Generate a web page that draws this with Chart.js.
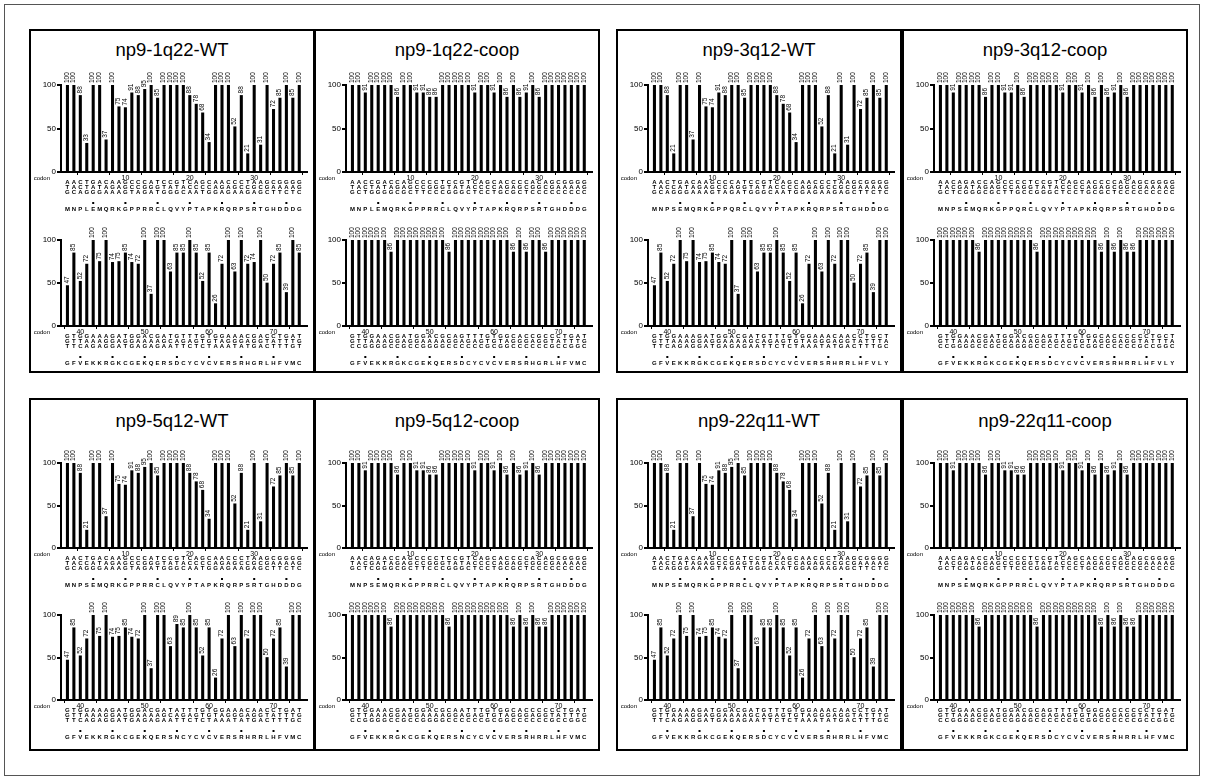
<!DOCTYPE html>
<html><head><meta charset="utf-8">
<script src="https://cdn.jsdelivr.net/npm/chart.js@4.4.1/dist/chart.umd.min.js"></script>
<style>
html,body{margin:0;padding:0;background:#fff;}
body{width:1206px;height:781px;overflow:hidden;position:relative;font-family:"Liberation Sans",Arial,sans-serif;}
#frame{position:absolute;left:4px;top:4px;width:1196px;height:772px;border:1px solid #555;box-sizing:border-box;}
.panel{position:absolute;border:2px solid #000;box-sizing:border-box;}
.title{position:absolute;text-align:center;font-size:18.5px;line-height:24px;color:#000;}
canvas{position:absolute;}
</style></head><body>
<div id="frame"></div>
<script>
// ---------- data ----------
const codonsTop = [1,2,3,4,5,6,7,8,9,10,11,12,13,14,15,16,17,18,19,20,21,22,23,24,25,26,27,28,29,30,31,32,33,34,35,36,37];
const codonsBottom = [38,39,40,41,42,43,44,45,46,47,48,49,50,51,52,53,54,55,56,57,58,59,60,61,62,63,64,65,66,67,68,69,70,71,72,73,74];
const tickValsTop = [5,10,15,20,25,30,35];
const tickValsBottom = [40,45,50,55,60,65,70];
const yTickVals = [0,50,100];

const wt1q22Top = [100,100,88,33,100,100,37,100,75,74,91,88,95,100,85,100,100,100,100,88,78,68,34,100,100,100,52,88,21,100,31,100,72,85,100,85,100];
const wt1q22Bottom = [47,85,52,72,100,75,100,74,75,85,74,72,100,37,100,100,63,85,85,100,85,52,85,26,72,100,63,100,72,74,100,50,72,85,39,100,85];
const wt3q12Top = [100,100,88,21,100,100,37,100,75,74,91,88,100,100,85,100,100,100,100,88,78,68,34,100,100,100,52,88,21,100,31,100,72,85,100,85,100];
const wt3q12Bottom = [47,85,52,72,100,75,100,74,75,85,74,72,100,37,100,100,63,85,85,100,85,52,85,26,72,100,63,100,72,100,100,50,72,85,39,100,100];
const wt5q12Top = [100,100,88,21,100,100,37,100,75,74,91,88,95,100,85,100,100,100,100,88,78,68,34,100,100,100,52,88,21,100,31,100,72,85,100,85,100];
const wt5q12Bottom = [47,85,52,72,100,75,100,74,75,85,74,72,100,37,100,100,63,89,85,100,85,52,85,26,72,100,63,100,72,100,100,50,72,85,39,100,100];
const wt22q11Top = [100,100,88,21,100,100,37,100,75,74,91,88,95,100,85,100,100,100,100,88,78,68,34,100,100,100,52,88,21,100,31,100,72,85,100,85,100];
const wt22q11Bottom = [47,85,52,72,100,75,100,74,75,85,74,72,100,37,100,100,63,85,85,100,85,52,85,26,72,100,63,100,72,100,100,50,72,85,39,100,100];

const coop1q22Top = [100,100,91,100,100,100,100,86,100,100,91,91,86,86,100,100,100,100,100,91,100,100,91,100,86,100,86,91,100,86,100,100,100,100,100,100,100];
const coop1q22Bottom = [100,100,100,100,100,100,86,100,100,100,100,100,100,100,100,86,100,100,100,100,100,100,100,100,100,86,100,86,100,100,86,100,100,100,100,100,100];
const coop3q12Top = [100,100,91,100,100,100,100,86,100,100,91,91,100,86,100,100,100,100,100,91,100,100,91,100,86,100,86,91,100,86,100,100,100,100,100,100,100];
const coop3q12Bottom = [100,100,100,100,100,100,86,100,100,100,100,100,100,100,100,86,100,100,100,100,100,100,100,100,100,86,100,86,100,86,86,100,100,100,100,100,100];
const coop5q12Top = [100,100,91,100,100,100,100,86,100,100,91,91,86,86,100,100,100,100,100,91,100,100,91,100,86,100,86,91,100,86,100,100,100,100,100,100,100];
const coop5q12Bottom = [100,100,100,100,100,100,86,100,100,100,100,100,100,100,100,86,100,100,100,100,100,100,100,100,100,86,100,86,100,86,86,100,100,100,100,100,100];
const coop22q11Top = [100,100,91,100,100,100,100,86,100,100,91,91,86,86,100,100,100,100,100,91,100,100,91,100,86,100,86,91,100,86,100,100,100,100,100,100,100];
const coop22q11Bottom = [100,100,100,100,100,100,86,100,100,100,100,100,100,100,100,86,100,100,100,100,100,100,100,100,100,86,100,86,100,86,86,100,100,100,100,100,100];

// nucleotide rows (one letter per codon, 3 rows) and amino acids
const seq1q22WtTop = ["AACTGACAAGCCCATCCGTCAGCAACCCTAAGCGGGG","TACTATAGAGCCGGGTATACCCCAGAGCCGCGAAAAG","GCAGGGAAAGTAGATGGGCAATGGAGAAGAGCTTCTC"];
const aa1q22WtTop = "MNPLEMQRKGPPRRCLQVYPTAPKRQRPSRTGHDDDG";
const seq1q22WtBottom = ["GTGGAAAGATGGACGATGTTTGTGGAAACGACCTGAT","GTTAAAGGAGGAAAAGCAGAGTGTAGGGAGGTATTTG","TTCAGAGGATGAGAGAATTCTCTAAATATGACTTTGT"];
const aa1q22WtBottom = "GFVEKKRGKCGEKQERSDCYCVCVERSRHGRLHFVMC";
const seq3q12WtTop = ["AACTGACAAGCCCATCCGTCAGCAACCCTAAGCGGGG","TACCATAGAGCCAGGTATACCCCAGAGCCGCGAAAAG","GCAGGGAAAGTAGATGGGCAATGGAGAAGAGCTTCTC"];
const aa3q12WtTop = "MNPSEMQRKGPPQRCLQVYPTAPKRQRPSRTGHDDDG";
const seq3q12WtBottom = ["GTGGAAAGATGGACGATGTTTGTGGAAACAACCTGCT","GTTAAAGGAGGAAAAGCAGAGTGTAGGGAGGTATTTA","TTCAGAGGATGAGAGAATTCTCTAAATATGACTTTGC"];
const aa3q12WtBottom = "GFVEKKRGKCGEKQERSDCYCVCVERSRHRRLHFVLY";
const seq5q12WtTop = ["AACTGACAAGCCCATCCGTCAGCAACCCTAAGCGGGG","TACCATAGAGCCGGGTATACCCCAGAGCCGCGAAAAG","GCAGGGAAAGTAGATGGGCAATGGAGAAGAGCTTCTC"];
const aa5q12WtTop = "MNPSEMQRKGPPRRCLQVYPTAPKRQRPSRTGHDDDG";
const seq5q12WtBottom = ["GTGGAAAGATGGACGATATTTGTGGAAACAACCTGAT","GTTAAAGGAGGAAAAGCAGAGTGTAGGGAGGTATTTG","TTCAGAGGATGAGAGAATTCTCTAAATATGACTTTGC"];
const aa5q12WtBottom = "GFVEKKRGKCGEKQERSNCYCVCVERSRHRRLHFVMC";
const seq22q11WtTop = ["AACTGACAAGCCCATCCGTCAGCAACCCTAAGCGGGG","TACCATAGAGCCGGGTATACCCCAGAGCCGCGAAAAG","GCAGGGAAAGTAGATGGGCAATGGAGAAGAGCTTCTC"];
const aa22q11WtTop = "MNPSEMQRKGPPRRCLQVYPTAPKRQRPSRTGHDDDG";
const seq22q11WtBottom = ["GTGGAAAGATGGACGATGTTTGTGGAAACAACCTGAT","GTTAAAGGAGGAAAAGCAGAGTGTAGGGAGGTATTTG","TTCAGAGGATGAGAGAATTCTCTAAATATGACTTTGC"];
const aa22q11WtBottom = "GFVEKKRGKCGEKQERSDCYCVCVERSRHRRLHFVMC";

const seq1q22CoopTop = ["AACCGACCAGCCCCTCCGTCAGCACCCCACAGCGGGG","TACTATAGAGCCGGGTATACCCCAGAGCGGCGAAAAG","GCTGGGGCGCTTCCCGGGCTCCTGCGCTCCCCCCCCC"];
const aa1q22CoopTop = "MNPLEMQRKGPPRRCLQVYPTAPKRQRPSRTGHDDDG";
const seq1q22CoopBottom = ["GTGGAACGATGGACGCAGTTTGTGGCACCGCCCTGAT","GTTAAAGGAGGAAAAGGAGAGTGTAGGGAGGTATTTG","CCGGGGCCGCCGGGGCCCCCCGCGGCCCCCCGCCGGC"];
const aa1q22CoopBottom = "GFVEKKRGKCGEKQERSDCYCVCVERSRHGRLHFVMC";
const seq3q12CoopTop = ["AACAGACCAGCCCCTCCGTCAGCACCCCACAGCGGGG","TACGATAGAGCCAGGTATACCCCAGAGCGGCGAAAAG","GCTCGGGCGCTTGCCGGGCTCCTGCGCTCCCCCCCCC"];
const aa3q12CoopTop = "MNPSEMQRKGPPQRCLQVYPTAPKRQRPSRTGHDDDG";
const seq3q12CoopBottom = ["GTGGAACGATGGACGCAGTTTGTGGCACCCCCCTGCT","GTTAAAGGAGGAAAAGGAGAGTGTAGGGAGGTATTTA","CCGGGGCCGCCGGGGCCCCCCGCGGCCCCCCGCCGGC"];
const aa3q12CoopBottom = "GFVEKKRGKCGEKQERSDCYCVCVERSRHRRLHFVLY";
const seq5q12CoopTop = ["AACAGACCAGCCCCTCCGTCAGCACCCCACAGCGGGG","TACGATAGAGCCGGGTATACCCCAGAGCGGCGAAAAG","GCTCGGGCGCTTCCCGGGCTCCTGCGCTCCCCCCCCC"];
const aa5q12CoopTop = "MNPSEMQRKGPPRRCLQVYPTAPKRQRPSRTGHDDDG";
const seq5q12CoopBottom = ["GTGGAACGATGGACGCAATTTGTGGCACCCCCCTGAT","GTTAAAGGAGGAAAAGGAGAGTGTAGGGAGGTATTTG","CCGGGGCCGCCGGGGCCCCCCGCGGCCCCCCGCCGGC"];
const aa5q12CoopBottom = "GFVEKKRGKCGEKQERSNCYCVCVERSRHRRLHFVMC";
const seq22q11CoopTop = ["AACAGACCAGCCCCTCCGTCAGCACCCCACAGCGGGG","TACGATAGAGCCGGGTATACCCCAGAGCGGCGAAAAG","GCTCGGGCGCTTCCCGGGCTCCTGCGCTCCCCCCCCC"];
const aa22q11CoopTop = "MNPSEMQRKGPPRRCLQVYPTAPKRQRPSRTGHDDDG";
const seq22q11CoopBottom = ["GTGGAACGATGGACGCAGTTTGTGGCACCCCCCTGAT","GTTAAAGGAGGAAAAGGAGAGTGTAGGGAGGTATTTG","CCGGGGCCGCCGGGGCCCCCCGCGGCCCCCCGCCGGC"];
const aa22q11CoopBottom = "GFVEKKRGKCGEKQERSDCYCVCVERSRHRRLHFVMC";

const panelTitles = ["np9-1q22-WT","np9-1q22-coop","np9-3q12-WT","np9-3q12-coop","np9-5q12-WT","np9-5q12-coop","np9-22q11-WT","np9-22q11-coop"];

// ---------- layout ----------
const FONT = '"Liberation Sans", Arial, sans-serif';
const colLefts = [29, 314, 616, 902];
const PANEL_W = 286;
const rowsLayout = [
  {top:29, h:344, titleY:50, areas:[[85,172],[240,326]]},
  {top:398, h:353, titleY:421, areas:[[463,548],[615,700]]}
];
const AXIS_OFF = 32, PLOT_W = 246, PAD_TOP = 24, XAXIS_H = 44;

const panelDefs = [
  {t:0, col:0,row:0, top:[wt1q22Top,seq1q22WtTop,aa1q22WtTop], bot:[wt1q22Bottom,seq1q22WtBottom,aa1q22WtBottom]},
  {t:1, col:1,row:0, top:[coop1q22Top,seq1q22CoopTop,aa1q22CoopTop], bot:[coop1q22Bottom,seq1q22CoopBottom,aa1q22CoopBottom]},
  {t:2, col:2,row:0, top:[wt3q12Top,seq3q12WtTop,aa3q12WtTop], bot:[wt3q12Bottom,seq3q12WtBottom,aa3q12WtBottom]},
  {t:3, col:3,row:0, top:[coop3q12Top,seq3q12CoopTop,aa3q12CoopTop], bot:[coop3q12Bottom,seq3q12CoopBottom,aa3q12CoopBottom]},
  {t:4, col:0,row:1, top:[wt5q12Top,seq5q12WtTop,aa5q12WtTop], bot:[wt5q12Bottom,seq5q12WtBottom,aa5q12WtBottom]},
  {t:5, col:1,row:1, top:[coop5q12Top,seq5q12CoopTop,aa5q12CoopTop], bot:[coop5q12Bottom,seq5q12CoopBottom,aa5q12CoopBottom]},
  {t:6, col:2,row:1, top:[wt22q11Top,seq22q11WtTop,aa22q11WtTop], bot:[wt22q11Bottom,seq22q11WtBottom,aa22q11WtBottom]},
  {t:7, col:3,row:1, top:[coop22q11Top,seq22q11CoopTop,aa22q11CoopTop], bot:[coop22q11Bottom,seq22q11CoopBottom,aa22q11CoopBottom]}
];

function makeChart(left, areaTop, areaBottom, codons, values, seqRows, aa, xMin, xMax, tickVals) {
  const cv = document.createElement('canvas');
  const w = AXIS_OFF - 2 + PLOT_W + 6;
  const h = PAD_TOP + (areaBottom - areaTop) + XAXIS_H;
  cv.width = w; cv.height = h;
  cv.style.left = (left + 2) + 'px';
  cv.style.top = (areaTop - PAD_TOP) + 'px';
  document.body.appendChild(cv);

  const labelPlugin = {
    id: 'valLabels',
    afterDatasetsDraw(chart) {
      const ctx = chart.ctx;
      const meta = chart.getDatasetMeta(0);
      ctx.save();
      ctx.fillStyle = '#000';
      ctx.font = '6.5px ' + FONT;
      meta.data.forEach((bar, i) => {
        ctx.save();
        ctx.translate(bar.x - 0.5, bar.y - 2);
        ctx.rotate(-Math.PI / 2);
        ctx.textAlign = 'left';
        ctx.textBaseline = 'middle';
        ctx.fillText(String(values[i]), 0, 0);
        ctx.restore();
      });
      ctx.restore();
    }
  };
  const seqPlugin = {
    id: 'seqRows',
    afterDraw(chart) {
      const ctx = chart.ctx;
      const xs = chart.scales.x;
      const b = chart.chartArea.bottom;
      ctx.save();
      ctx.fillStyle = '#000';
      ctx.textAlign = 'center';
      ctx.textBaseline = 'middle';
      ctx.font = 'bold 6px ' + FONT;
      codons.forEach((c, i) => {
        const x = xs.getPixelForValue(c);
        seqRows.forEach((r, k) => ctx.fillText(r[i], x, b + 10.5 + k * 5));
        ctx.fillText(aa[i], x, b + 37);
      });
      tickVals.forEach(v => {
        const x = xs.getPixelForValue(v);
        ctx.fillRect(x - 1, b + 30, 2, 2);
      });
      ctx.font = '6px ' + FONT;
      ctx.textAlign = 'right';
      ctx.fillText('codon', chart.chartArea.left - 11, b + 6);
      ctx.restore();
    }
  };

  return new Chart(cv, {
    type: 'bar',
    data: { datasets: [{ data: codons.map((c, i) => ({ x: c, y: values[i] })), backgroundColor: '#000', borderWidth: 0, barThickness: 2.4 }] },
    options: {
      responsive: false, animation: false, events: [],
      layout: { padding: { top: PAD_TOP, right: 6, left: 0, bottom: 0 } },
      plugins: { legend: { display: false }, tooltip: { enabled: false }, title: { display: false } },
      scales: {
        x: {
          type: 'linear', min: xMin, max: xMax, offset: false,
          afterFit(s) { s.height = XAXIS_H; },
          afterBuildTicks(s) { s.ticks = tickVals.map(v => ({ value: v })); },
          ticks: { autoSkip: false, maxRotation: 0, minRotation: 0, padding: -1, color: '#000', font: { size: 7, family: FONT },
                   callback: (v) => (v % 10 === 0 ? String(v) : '') },
          grid: { drawOnChartArea: false, drawTicks: true, tickLength: 3, color: '#000', lineWidth: 1 },
          border: { display: true, color: '#000', width: 2 }
        },
        y: {
          min: 0, max: 100,
          afterFit(s) { s.width = AXIS_OFF - 2; },
          afterBuildTicks(s) { s.ticks = yTickVals.map(v => ({ value: v })); },
          ticks: { color: '#000', font: { size: 8, family: FONT }, padding: 1 },
          grid: { drawOnChartArea: false, drawTicks: true, tickLength: 4, color: '#000', lineWidth: 2 },
          border: { display: true, color: '#000', width: 2 }
        }
      }
    },
    plugins: [labelPlugin, seqPlugin]
  });
}

panelDefs.forEach(p => {
  const L = colLefts[p.col];
  const R = rowsLayout[p.row];
  const box = document.createElement('div');
  box.className = 'panel';
  box.style.left = L + 'px'; box.style.top = R.top + 'px';
  box.style.width = PANEL_W + 'px'; box.style.height = R.h + 'px';
  document.body.appendChild(box);
  const t = document.createElement('div');
  t.className = 'title';
  t.textContent = panelTitles[p.t];
  t.style.left = L + 'px'; t.style.width = PANEL_W + 'px'; t.style.top = (R.titleY - 12) + 'px';
  document.body.appendChild(t);
  makeChart(L, R.areas[0][0], R.areas[0][1], codonsTop, p.top[0], p.top[1], p.top[2], 0, 38.2, tickValsTop);
  makeChart(L, R.areas[1][0], R.areas[1][1], codonsBottom, p.bot[0], p.bot[1], p.bot[2], 37, 75.2, tickValsBottom);
});
</script>
</body></html>
